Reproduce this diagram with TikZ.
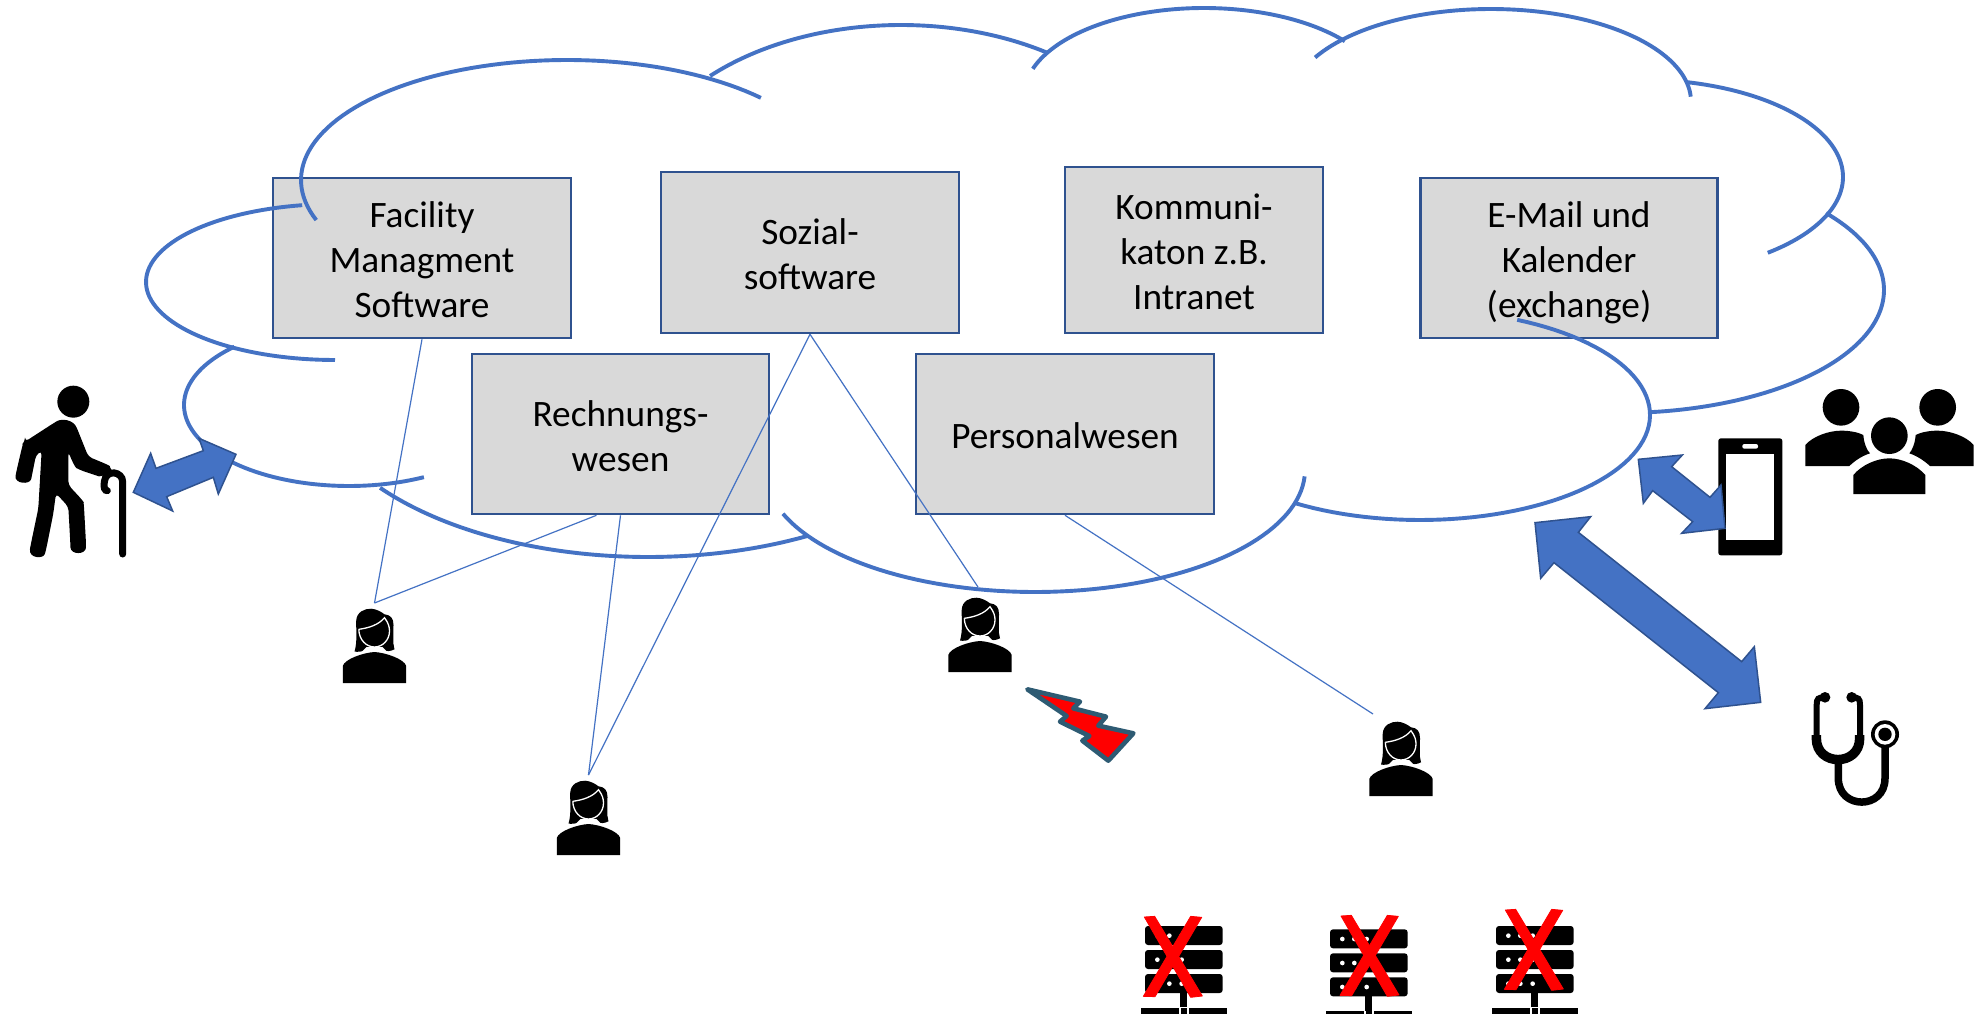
\documentclass[tikz,border=0pt]{standalone}
\usepackage{fontspec}
\setmainfont{Carlito}
\usetikzlibrary{calc}
\definecolor{cloudblue}{HTML}{4472C4}
\definecolor{darkblue}{HTML}{2F528F}
\definecolor{boxgrey}{HTML}{D9D9D9}
\definecolor{boltedge}{HTML}{2E5B73}
\newcommand{\topstrut}{\rule{0pt}{38pt}}
\newcommand{\botstrut}{\rule[-9pt]{0pt}{9pt}}
\newcommand{\cloudpart}[6]{\draw[cloudarc] plot[domain=#5:#6,samples=70,variable=\t] ({#1+#3*cos(\t)},{#2+#4*sin(\t)});}
\tikzset{
  boxnode/.style={draw=darkblue,fill=boxgrey,line width=2.6pt,align=center,inner sep=0pt,
    text=black,font=\fontsize{37.3}{45}\selectfont},
  cloudarc/.style={draw=cloudblue,line width=3.9pt,line cap=butt,line join=round},
  thinlink/.style={draw=cloudblue,line width=1.2pt},
  blockarrow/.style={draw=darkblue,fill=cloudblue,line width=1.5pt,line join=miter},
  zoomed/.style={scale=0.33333},
  person/.pic={
    \fill[black] (-20,-31.3) .. controls (-17,-42) and (-18.5,-52) .. (-18.3,-62)
      .. controls (-18,-71) and (-10,-74.5) .. (-3.3,-74.3)
      .. controls (2,-74) and (7,-71) .. (10,-68.7)
      .. controls (16,-68) and (19,-65) .. (19,-58)
      .. controls (19,-48) and (18,-40) .. (20,-33.7)
      .. controls (16,-31.5) and (12,-31.5) .. (8,-33) -- (-8,-33) .. controls (-12,-31.5) and (-16,-31) .. (-20,-31.3) -- cycle;
    \draw[white,line width=1.3pt,fill=black] (-15.7,-53.7) .. controls (-6,-55) and (4,-58) .. (10,-65.3)
      .. controls (14,-60) and (15,-56) .. (15,-52)
      .. controls (15,-43) and (8,-36) .. (0,-36)
      .. controls (-8,-36) and (-15.5,-43) .. (-15.7,-53.7);
    \fill[white] (-8,-36) -- (8,-36) -- (13,-31) -- (-13,-31) -- cycle;
    \fill[black] (-31.7,0) -- (-31.7,-17) .. controls (-30,-23.7) and (-11.7,-30.3) .. (0,-31)
      .. controls (11.7,-30.3) and (30,-23.7) .. (31.7,-17) -- (31.7,0) -- cycle;
    \coordinate (-top) at (0,-80);
  },
  rackserver/.pic={
    \foreach \ry in {108,180,252}{
      \fill[black,rounded corners=3pt] (135,\ry) rectangle (368,\ry+57);
      \foreach \dx in {172,208,245}{\fill[white] (\dx,\ry+29) circle (7);}
    }
    \fill[black] (241,308) rectangle (262,352);
    \fill[black] (122,353) rectangle (236,400);
    \fill[black] (243,353) rectangle (260,400);
    \fill[black] (268,353) rectangle (382,400);
  },
  redcross/.pic={
    \fill[red,draw=red,line width=0.8pt,line join=round] (133,81) -- (164,79) -- (307,318) -- (272,322) -- cycle;
    \fill[red,draw=red,line width=0.8pt,line join=round] (272,79) -- (305,82) -- (165,320) -- (130,319) -- cycle;
  }
}
\begin{document}
\begin{tikzpicture}[x=1pt,y=-1pt]
\useasboundingbox (0,0) rectangle (1975,1014);
\fill[white] (0,0) rectangle (1975,1014);
\clip (0,0) rectangle (1975,1014);

% application boxes
\node[boxnode,minimum width=298pt,minimum height=160pt] (fac) at (422,258) {\topstrut Facility\\Managment\\\botstrut Software};
\node[boxnode,minimum width=298pt,minimum height=161pt] (soz) at (810,252.5) {\topstrut Sozial-\\\botstrut software};
\node[boxnode,minimum width=258pt,minimum height=166pt] (kom) at (1194,250) {\topstrut Kommuni-\\katon z.B.\\\botstrut Intranet};
\node[boxnode,minimum width=297pt,minimum height=160pt] (mail) at (1569,258) {\topstrut E-Mail und\\Kalender\\\botstrut (exchange)};
\node[boxnode,minimum width=297pt,minimum height=160pt] (rech) at (620.5,434) {\topstrut Rechnungs-\\\botstrut wesen};
\node[boxnode,minimum width=298pt,minimum height=160pt] (pers) at (1065,434) {\topstrut\botstrut Personalwesen};

% cloud, arc by arc (centre x, centre y, radius x, radius y, from, to)
\cloudpart{567}{180}{266}{120}{160.5}{316.8}
\cloudpart{901}{199}{270}{174}{225}{303}
\cloudpart{1204}{96}{180}{88}{198}{321.5}
\cloudpart{1491}{101.5}{200}{92.5}{208.4}{357}
\cloudpart{1640}{177}{203}{97.5}{-77}{51}
\cloudpart{1620}{290}{264}{123}{-38.7}{83.5}
\cloudpart{1420}{415}{230}{105}{-65}{123}
\cloudpart{1035}{470}{270}{122}{3}{159}
\cloudpart{648}{377}{340}{180}{62}{142}
\cloudpart{349}{405}{165}{81}{63}{226}
\cloudpart{335}{282}{189}{78}{90}{260}

% staff icons
\pic (pa) at (374.5,683) {person};
\pic (pb) at (980,672) {person};
\pic (pc) at (588.5,855) {person};
\pic (pd) at (1401,796) {person};
\coordinate (pbend) at (978,587);
\coordinate (pdend) at (1373,714);

% links from applications to staff
\draw[thinlink] (fac.south) -- (pa-top);
\draw[thinlink] ($(rech.south)+(-24,0)$) -- (pa-top);
\draw[thinlink] (rech.south) -- (pc-top);
\draw[thinlink] (soz.south) -- (pc-top);
\draw[thinlink] (soz.south) -- (pbend);
\draw[thinlink] (pers.south) -- (pdend);

% walking person with cane
\begin{scope}[shift={(0,360)},zoomed]
  \fill[black] (220,125) circle (48);
  \fill[black,rounded corners=4pt] (75,245) -- (160,190) .. controls (185,175) and (220,178) .. (235,215) -- (265,290) -- (318,312) .. controls (330,318) and (332,330) .. (325,335)
    .. controls (315,345) and (300,350) .. (285,345) -- (240,330) .. controls (225,322) and (215,300) .. (205,275) -- (205,375) -- (245,418) .. controls (250,425) and (251,430) .. (252,440) -- (258,550)
    .. controls (258,585) and (212,585) .. (211,550) -- (205,440) -- (168,400) -- (160,460) -- (138,570) .. controls (130,598) and (85,595) .. (92,555) -- (115,445) -- (125,272) -- (108,285) -- (96,345)
    .. controls (90,375) and (42,372) .. (49,335) -- (66,262) .. controls (68,255) and (70,250) .. (75,245) -- cycle;
  \draw[black,line width=7pt,line cap=round] (368,582) -- (368,365) .. controls (368,335) and (318,325) .. (313,365);
  \draw[black,line width=7pt,line cap=round] (313,365) .. controls (310,385) and (315,392) .. (322,392);
\end{scope}

% phone
\begin{scope}[shift={(1500,370)},zoomed]
  \fill[black,rounded corners=2.5pt] (655,205) rectangle (847,556);
  \fill[white] (677,252) rectangle (823,509);
  \fill[white,rounded corners=2pt] (727,222) rectangle (774,236);
\end{scope}

% block arrows
\begin{scope}[shift={(0,360)},zoomed]
  \draw[blockarrow] (400,397) -- (452,280) -- (468,325) -- (610,272) -- (597,235) -- (708,283) -- (655,402) -- (640,352) -- (500,410) -- (518,453) -- cycle;
\end{scope}
\begin{scope}[shift={(1500,370)},zoomed]
  \draw[blockarrow] (415,268) -- (547,255) -- (515,290) -- (630,382) -- (663,345) -- (675,475) -- (545,490) -- (578,455) -- (458,362) -- (430,400) -- cycle;
  \draw[blockarrow] (105,458) -- (272,440) -- (235,487) -- (725,875) -- (763,830) -- (782,997) -- (615,1016) -- (655,968) -- (162,578) -- (122,625) -- cycle;

  % group of people
  \fill[black] (1023,112) circle (55);
  \fill[black] (1313,112) circle (55);
  \fill[black] (916,288) -- (916,225) .. controls (940,197) and (990,182) .. (1023,182) .. controls (1050,182) and (1075,187) .. (1090,195) .. controls (1092,220) and (1100,240) .. (1110,250) .. controls (1085,258) and (1065,272) .. (1048,288) -- cycle;
  \fill[black] (1421,288) -- (1421,225) .. controls (1397,197) and (1347,182) .. (1313,182) .. controls (1287,182) and (1262,187) .. (1247,195) .. controls (1245,220) and (1237,240) .. (1228,250) .. controls (1252,258) and (1272,272) .. (1290,288) -- cycle;
  \fill[black] (1168,197) circle (55);
  \fill[black] (1060,372) -- (1060,315) .. controls (1085,285) and (1130,265) .. (1168,265) .. controls (1205,265) and (1250,285) .. (1276,315) -- (1276,372) -- cycle;

  % stethoscope
  \fill[black] (975,982) circle (16);
  \fill[black] (1055,982) circle (16);
  \draw[black,line width=6pt] (975,982) .. controls (955,982) and (950,985) .. (950,1005) -- (950,1100);
  \draw[black,line width=6pt] (1055,982) .. controls (1075,982) and (1080,985) .. (1080,1005) -- (1080,1100);
  \draw[black,line width=9.5pt] (949,1095) -- (949,1105) .. controls (949,1190) and (1079,1190) .. (1079,1105) -- (1079,1095);
  \draw[black,line width=7.5pt] (1015,1170) -- (1015,1225) .. controls (1015,1320) and (1155,1320) .. (1155,1225) -- (1155,1125);
  \fill[black] (1155,1093) circle (42);
  \fill[white] (1155,1093) circle (31);
  \fill[black] (1155,1093) circle (20);
\end{scope}

% lightning bolt
\begin{scope}[shift={(920,590)},zoomed]
  \draw[draw=boltedge,fill=red,line width=4.6pt,line join=round] (322,298) -- (480,335) -- (460,355) -- (558,380) -- (535,407) -- (640,430) -- (565,512) -- (487,452) -- (508,438) -- (420,395) -- (440,378) -- cycle;
\end{scope}

% retired servers
\begin{scope}[shift={(1100,890)},zoomed]
  \pic[transform shape] at (0,0) {rackserver};
  \pic[transform shape] at (555,10) {rackserver};
  \pic[transform shape] at (1053,0) {rackserver};
  \pic[transform shape] at (0,0) {redcross};
  \pic[transform shape] at (590,-3) {redcross};
  \pic[transform shape] at (1083,-21) {redcross};
\end{scope}
\end{tikzpicture}
\end{document}
